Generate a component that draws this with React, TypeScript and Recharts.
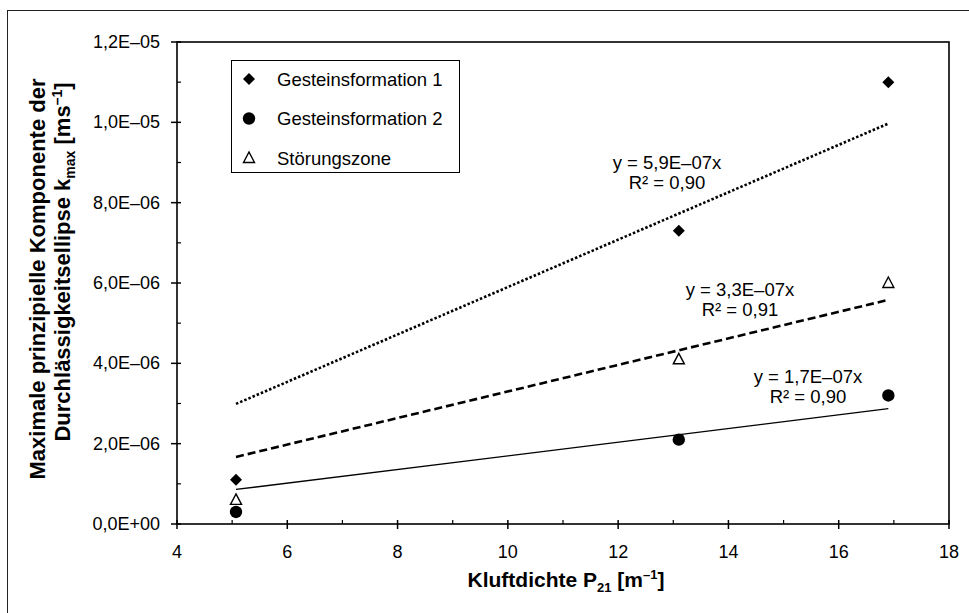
import { ScatterChart, Scatter, XAxis, YAxis } from 'recharts';

// measured points (x = Kluftdichte P21, y = k_max)
const gestein1 = [
    { x: 5.07, y: 1.1e-6 },
    { x: 13.1, y: 7.3e-6 },
    { x: 16.9, y: 1.1e-5 },
];
const gestein2 = [
    { x: 5.07, y: 0.3e-6 },
    { x: 13.1, y: 2.1e-6 },
    { x: 16.9, y: 3.2e-6 },
];
const stoerung = [
    { x: 5.07, y: 0.6e-6 },
    { x: 13.1, y: 4.1e-6 },
    { x: 16.9, y: 6.0e-6 },
];

// trend line end points
const trend1 = [{ x: 5.07, y: 2.99e-6 }, { x: 16.9, y: 9.97e-6 }];
const trend2 = [{ x: 5.07, y: 1.67e-6 }, { x: 16.9, y: 5.58e-6 }];
const trend3 = [{ x: 5.07, y: 0.86e-6 }, { x: 16.9, y: 2.87e-6 }];

const xTicks = [4, 5, 6, 7, 8, 9, 10, 11, 12, 13, 14, 15, 16, 17, 18];
const yTicks = [0, 1e-6, 2e-6, 3e-6, 4e-6, 5e-6, 6e-6, 7e-6, 8e-6, 9e-6, 1e-5, 1.1e-5, 1.2e-5];

const legendNames = ['Gesteinsformation 1', 'Gesteinsformation 2', 'Störungszone'];
const trendLabels = [
    ['y = 5,9E–07x', 'R² = 0,90'],
    ['y = 3,3E–07x', 'R² = 0,91'],
    ['y = 1,7E–07x', 'R² = 0,90'],
];

const FONT = '"Liberation Sans", Arial, sans-serif';

function fmtSci(v: number) {
    if (v === 0) return '0,0E+00';
    let e = Math.floor(Math.log10(v));
    let m = v / Math.pow(10, e);
    if (m >= 9.95) { m = m / 10; e += 1; }
    if (m < 0.995) { m = m * 10; e -= 1; }
    const sign = e < 0 ? '–' : '+';
    return m.toFixed(1).replace('.', ',') + 'E' + sign + String(Math.abs(e)).padStart(2, '0');
}

const YTick = (props: any) => {
    const { x, y, payload } = props;
    const major = Math.round(payload.value / 1e-6) % 2 === 0;
    if (!major) {
        return <line x1={x} x2={x + 4} y1={y} y2={y} stroke="#000" strokeWidth={1.2} />;
    }
    return (
        <g>
            <line x1={x - 6} x2={x + 4} y1={y} y2={y} stroke="#000" strokeWidth={1.5} />
            <text x={x - 17} y={y + 6} textAnchor="end" fontSize={18} fontFamily={FONT} fill="#000">
                {fmtSci(payload.value)}
            </text>
        </g>
    );
};

const XTick = (props: any) => {
    const { x, y, payload } = props;
    const major = payload.value % 2 === 0;
    if (!major) {
        return <line x1={x} x2={x} y1={y} y2={y - 4} stroke="#000" strokeWidth={1.2} />;
    }
    return (
        <g>
            <line x1={x} x2={x} y1={y - 4} y2={y + 5} stroke="#000" strokeWidth={1.5} />
            <text x={x} y={y + 34} textAnchor="middle" fontSize={18} fontFamily={FONT} fill="#000">
                {payload.value}
            </text>
        </g>
    );
};

const Diamond = (props: any) => {
    const { cx, cy } = props;
    const s = 6;
    return <polygon points={`${cx},${cy - s} ${cx + s},${cy} ${cx},${cy + s} ${cx - s},${cy}`} fill="#000" />;
};
const Dot = (props: any) => <circle cx={props.cx} cy={props.cy} r={6.2} fill="#000" />;
const Triangle = (props: any) => {
    const { cx, cy } = props;
    return (
        <polygon
            points={`${cx},${cy - 6} ${cx + 5.5},${cy + 4.5} ${cx - 5.5},${cy + 4.5}`}
            fill="#fff"
            stroke="#000"
            strokeWidth={1.4}
        />
    );
};
const NoShape = () => <g />;

const markers = [Diamond, Dot, Triangle];

export default function App() {
    return (
        <div style={{ position: 'absolute', left: 0, top: 0, width: 969, height: 613, background: '#fff' }}>
            <ScatterChart width={969} height={613} margin={{ top: 42, right: 20, bottom: 0, left: 0 }}>
                <XAxis
                    type="number"
                    dataKey="x"
                    domain={[4, 18]}
                    ticks={xTicks}
                    interval={0}
                    height={89}
                    tickSize={0}
                    tickMargin={0}
                    axisLine={false}
                    tickLine={false}
                    tick={<XTick />}
                />
                <YAxis
                    type="number"
                    dataKey="y"
                    domain={[0, 1.2e-5]}
                    ticks={yTicks}
                    interval={0}
                    width={177}
                    tickSize={0}
                    tickMargin={0}
                    axisLine={false}
                    tickLine={false}
                    tick={<YTick />}
                />
                <Scatter data={trend1} line={{ stroke: '#000', strokeWidth: 2.6, strokeDasharray: '2.5 2' }} shape={<NoShape />} isAnimationActive={false} />
                <Scatter data={trend2} line={{ stroke: '#000', strokeWidth: 2.6, strokeDasharray: '8 4' }} shape={<NoShape />} isAnimationActive={false} />
                <Scatter data={trend3} line={{ stroke: '#000', strokeWidth: 1.3 }} shape={<NoShape />} isAnimationActive={false} />
                <Scatter data={gestein1} shape={<Diamond />} isAnimationActive={false} />
                <Scatter data={gestein2} shape={<Dot />} isAnimationActive={false} />
                <Scatter data={stoerung} shape={<Triangle />} isAnimationActive={false} />
            </ScatterChart>

            <svg width={969} height={613} style={{ position: 'absolute', left: 0, top: 0, pointerEvents: 'none' }}>
                {/* outer frame, cut off at the right and bottom */}
                <line x1={7} x2={969} y1={10.5} y2={10.5} stroke="#222" strokeWidth={1} />
                <line x1={7.5} x2={7.5} y1={10} y2={613} stroke="#222" strokeWidth={1} />
                {/* plot box */}
                <rect x={177} y={42} width={772} height={482} fill="none" stroke="#000" strokeWidth={1.6} />

                {/* legend */}
                <rect x={231.5} y={60.5} width={228} height={112} fill="#fff" stroke="#000" strokeWidth={1} />
                {legendNames.map((name, i) => {
                    const cy = 79 + i * 39.5;
                    const M = markers[i];
                    return (
                        <g key={name}>
                            <M cx={249} cy={cy} />
                            <text x={277} y={cy + 6.5} fontSize={18.5} fontFamily={FONT} fill="#000">{name}</text>
                        </g>
                    );
                })}

                {/* trend line labels */}
                {[[667, 162], [740, 289], [808, 376]].map(([cx, cy], i) => (
                    <g key={i} fontSize={18.5} fontFamily={FONT} fill="#000" textAnchor="middle">
                        <text x={cx} y={cy + 6.5}>{trendLabels[i][0]}</text>
                        <text x={cx} y={cy + 26.5}>{trendLabels[i][1]}</text>
                    </g>
                ))}

                {/* x axis title */}
                <text x={566} y={587} textAnchor="middle" fontSize={21} fontWeight="bold" fontFamily={FONT} fill="#000">
                    Kluftdichte P<tspan fontSize={13} dy={5}>21</tspan>
                    <tspan dy={-5}> [m</tspan>
                    <tspan fontSize={13} dy={-8}>–1</tspan>
                    <tspan dy={8}>]</tspan>
                </text>

                {/* y axis title */}
                <text transform="rotate(-90, 45, 279)" x={45} y={279} textAnchor="middle" fontSize={22} fontWeight="bold" fontFamily={FONT} fill="#000">
                    Maximale prinzipielle Komponente der
                </text>
                <text transform="rotate(-90, 70, 262)" x={70} y={262} textAnchor="middle" fontSize={22} fontWeight="bold" fontFamily={FONT} fill="#000">
                    Durchlässigkeitsellipse k<tspan fontSize={14} dy={5}>max</tspan>
                    <tspan dy={-5}> [ms</tspan>
                    <tspan fontSize={14} dy={-8}>–1</tspan>
                    <tspan dy={8}>]</tspan>
                </text>
            </svg>
        </div>
    );
}
